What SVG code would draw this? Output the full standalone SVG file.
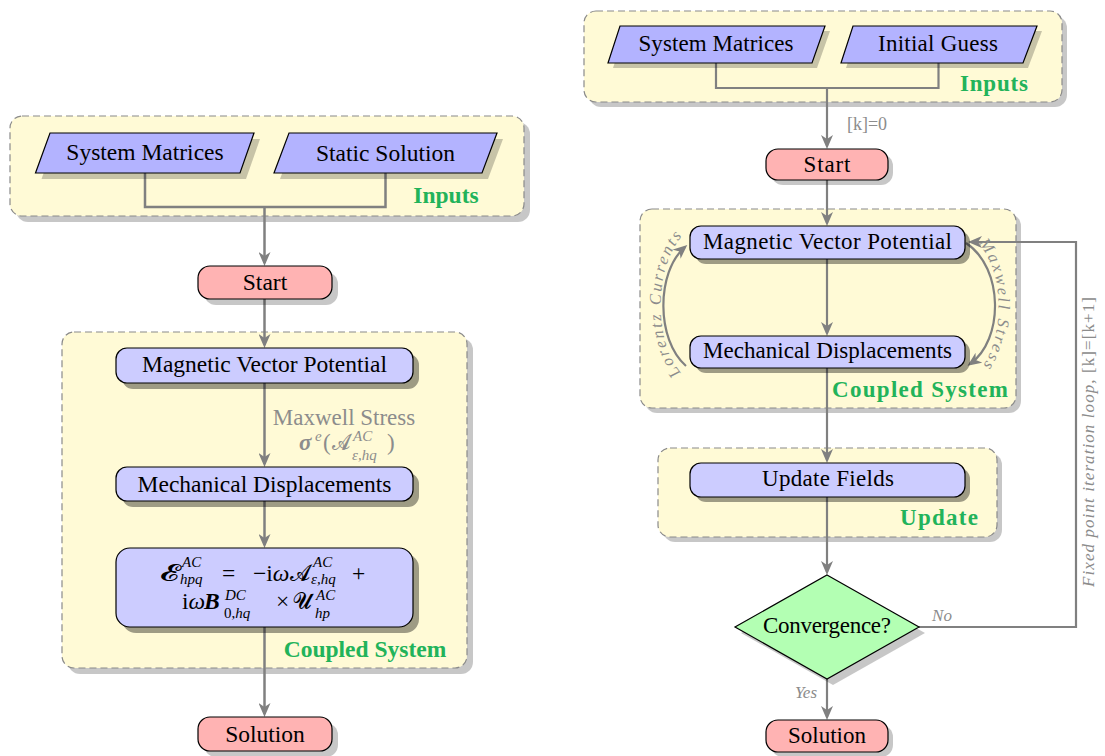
<svg xmlns="http://www.w3.org/2000/svg" width="1105" height="756" viewBox="0 0 1105 756">
<defs>
<style>
.ctr{fill:#fffad6;stroke:#8a8a8a;stroke-width:1.2;stroke-dasharray:7 4}
.sh{fill:#000;opacity:.22}
.shd{fill:#000;opacity:.38}
.io{fill:#b3b3ff;stroke:#000;stroke-width:1.2}
.proc{fill:#ccccff;stroke:#000;stroke-width:1.2}
.term{fill:#ffb3b3;stroke:#000;stroke-width:1.2}
.dec{fill:#b3ffb3;stroke:#000;stroke-width:1.2}
text{font-family:"Liberation Serif","DejaVu Serif",serif;fill:#000}
.lab{font-weight:bold;fill:#22b35a}
.g{fill:#8c8c8c}
.i{font-style:italic}
.b{font-weight:bold}
.L{font-size:23.5px}
.R{font-size:23px}
.s{font-size:15px}
#connectors path{fill:none;stroke:#808080;stroke-width:2.5}
#connectors .r{stroke-width:2.2}
</style>
<marker id="ah" markerUnits="userSpaceOnUse" viewBox="0 0 14 12" refX="11" refY="6" markerWidth="14" markerHeight="12" orient="auto"><path d="M0,0 L14,6 L0,12 L4,6 z" fill="#808080"/></marker>
</defs>
<rect width="1105" height="756" fill="#fff"/>

<!-- containers -->
<g id="left-inputs">
<rect class="sh" x="16" y="122" width="514" height="100" rx="12"/>
<rect class="ctr" x="10" y="116" width="514" height="100" rx="12"/>
<text class="lab L" x="446" y="203" text-anchor="middle">Inputs</text>
</g>
<g id="left-coupled">
<rect class="sh" x="68" y="338" width="405" height="336" rx="12"/>
<rect class="ctr" x="62" y="332" width="405" height="336" rx="12"/>
<text class="lab L" x="365" y="657" text-anchor="middle">Coupled System</text>
</g>
<g id="right-inputs">
<rect class="sh" x="589" y="16" width="478" height="91" rx="12"/>
<rect class="ctr" x="584" y="11" width="478" height="91" rx="12"/>
<text class="lab R" x="994" y="91" text-anchor="middle" textLength="68" lengthAdjust="spacing">Inputs</text>
</g>
<g id="right-coupled">
<rect class="sh" x="645" y="214" width="376" height="199" rx="12"/>
<rect class="ctr" x="640" y="209" width="376" height="199" rx="12"/>
<text class="lab R" x="920" y="397" text-anchor="middle" textLength="176" lengthAdjust="spacing">Coupled System</text>
</g>
<g id="right-update">
<rect class="sh" x="663" y="453" width="339" height="89" rx="12"/>
<rect class="ctr" x="658" y="448" width="339" height="89" rx="12"/>
<text class="lab R" x="939" y="525" text-anchor="middle" textLength="78" lengthAdjust="spacing">Update</text>
</g>

<!-- connectors -->
<g id="connectors">
<path d="M145,173 V207 H385.5 V173"/>
<path d="M264.5,207 V263" marker-end="url(#ah)"/>
<path d="M264.5,299 V345" marker-end="url(#ah)"/>
<path d="M264.5,383 V464" marker-end="url(#ah)"/>
<path d="M264.5,501 V545" marker-end="url(#ah)"/>
<path d="M264.5,627 V714" marker-end="url(#ah)"/>

<path class="r" d="M716,63 V88 H938.5 V63"/>
<path class="r" d="M827,88 V146" marker-end="url(#ah)"/>
<path class="r" d="M827,180 V223" marker-end="url(#ah)"/>
<path class="r" d="M827,259 V333" marker-end="url(#ah)"/>
<path class="r" d="M827,368 V460" marker-end="url(#ah)"/>
<path class="r" d="M827,497 V572" marker-end="url(#ah)"/>
<path class="r" d="M827,679 V717" marker-end="url(#ah)"/>
<path class="r" d="M919,627 H1076 V242 H971" marker-end="url(#ah)"/>
<path class="r" d="M686,366 C656,340 656,272 685,247" marker-end="url(#ah)"/>
<path class="r" d="M966,243 C1004,268 1004,340 970,364" marker-end="url(#ah)"/>
<path id="lcpath" d="M683,375 C653,345 653,266 684,234" style="stroke:none"/>
<path id="mspath" d="M970,236 C1007,262 1007,344 976,374" style="stroke:none"/>
</g>

<!-- connector labels -->
<g id="connector-labels">
<text class="g" x="344" y="424.5" text-anchor="middle" font-size="23">Maxwell Stress</text>
<text class="g b i" x="299" y="450" font-size="23">σ</text>
<text class="g i" x="315" y="441" font-size="15">e</text>
<text class="g" x="323" y="450" font-size="23">(</text>
<text class="g" x="332" y="450" font-size="23" textLength="18" lengthAdjust="spacingAndGlyphs">𝓐</text>
<text class="g i" x="353" y="441" font-size="15">AC</text>
<text class="g i" x="352" y="460" font-size="15">ε,hq</text>
<text class="g" x="387" y="450" font-size="23">)</text>
<text class="g" x="867" y="130" text-anchor="middle" font-size="18">[k]=0</text>
<text class="g i" font-size="16.5"><textPath href="#lcpath" startOffset="50%" text-anchor="middle" textLength="146" lengthAdjust="spacing">Lorentz Currents</textPath></text>
<text class="g i" font-size="16.5"><textPath href="#mspath" startOffset="50%" text-anchor="middle" textLength="130" lengthAdjust="spacing">Maxwell Stress</textPath></text>
<text class="g i" x="942" y="621" text-anchor="middle" font-size="17">No</text>
<text class="g i" x="806" y="698" text-anchor="middle" font-size="17">Yes</text>
<text class="g" transform="translate(1094,442) rotate(-90)" text-anchor="middle" font-size="17" textLength="290" lengthAdjust="spacing"><tspan class="i">Fixed point iteration loop, </tspan><tspan>[k]=[k+1]</tspan></text>
</g>

<!-- left nodes -->
<g id="l-sysmat">
<polygon class="sh" points="56,139 260,139 246,179 41.5,179"/>
<polygon class="io" points="50,133 254,133 240,173 35.5,173"/>
<text class="L" x="145" y="160" text-anchor="middle">System Matrices</text>
</g>
<g id="l-static">
<polygon class="sh" points="295,139 503,139 488,179 280,179"/>
<polygon class="io" points="289,133 497,133 482,173 274,173"/>
<text class="L" x="385.5" y="161" text-anchor="middle">Static Solution</text>
</g>
<g id="l-start">
<rect class="sh" x="204" y="272" width="134" height="33" rx="12"/>
<rect class="term" x="198" y="266" width="134" height="33" rx="12"/>
<text class="L" x="265" y="290" text-anchor="middle">Start</text>
</g>
<g id="l-mvp">
<rect class="shd" x="122" y="354" width="297" height="35" rx="11"/>
<rect class="proc" x="116" y="348" width="297" height="35" rx="11"/>
<text class="L" x="264.5" y="372" text-anchor="middle">Magnetic Vector Potential</text>
</g>
<g id="l-md">
<rect class="shd" x="122" y="473" width="297" height="34" rx="11"/>
<rect class="proc" x="116" y="467" width="297" height="34" rx="11"/>
<text class="L" x="264.5" y="492" text-anchor="middle">Mechanical Displacements</text>
</g>
<g id="l-formula">
<rect class="shd" x="122" y="554" width="297" height="79" rx="14"/>
<rect class="proc" x="116" y="548" width="297" height="79" rx="14"/>
<text x="160" y="581" font-size="23.5" textLength="19" lengthAdjust="spacingAndGlyphs">𝓔</text>
<text class="i s" x="182" y="567">AC</text>
<text class="i s" x="180" y="584">hpq</text>
<text x="222" y="581" font-size="23.5">=</text>
<text x="253" y="581" font-size="23.5">−i<tspan class="i">ω</tspan></text>
<text x="290" y="581" font-size="23.5" textLength="20" lengthAdjust="spacingAndGlyphs">𝓐</text>
<text class="i s" x="313" y="567">AC</text>
<text class="i s" x="311" y="584">ε,hq</text>
<text x="352" y="581" font-size="23.5">+</text>
<text x="182" y="609" font-size="23.5">i<tspan class="i">ω</tspan></text>
<text class="b i" x="204" y="609" font-size="23.5">B</text>
<text class="i s" x="225" y="600">DC</text>
<text class="s" x="224" y="618">0,<tspan class="i">hq</tspan></text>
<text x="276" y="609" font-size="23.5">×</text>
<text x="293" y="609" font-size="23.5" textLength="18" lengthAdjust="spacingAndGlyphs">𝓤</text>
<text class="i s" x="316" y="600">AC</text>
<text class="i s" x="315" y="618">hp</text>
</g>
<g id="l-solution">
<rect class="sh" x="204" y="723" width="134" height="34" rx="12"/>
<rect class="term" x="198" y="717" width="134" height="34" rx="12"/>
<text class="L" x="265" y="742" text-anchor="middle">Solution</text>
</g>

<!-- right nodes -->
<g id="r-sysmat">
<polygon class="sh" points="625,31 830,31 817,68 613,68"/>
<polygon class="io" points="620,26 825,26 812,63 608,63"/>
<text class="R" x="716" y="51" text-anchor="middle" textLength="155" lengthAdjust="spacing">System Matrices</text>
</g>
<g id="r-guess">
<polygon class="sh" points="858,31 1042,31 1028,68 846,68"/>
<polygon class="io" points="853,26 1037,26 1023,63 841,63"/>
<text class="R" x="938" y="51" text-anchor="middle" textLength="120" lengthAdjust="spacing">Initial Guess</text>
</g>
<g id="r-start">
<rect class="sh" x="771" y="154" width="122" height="31" rx="12"/>
<rect class="term" x="766" y="149" width="122" height="31" rx="12"/>
<text class="R" x="827" y="172" text-anchor="middle" textLength="47" lengthAdjust="spacing">Start</text>
</g>
<g id="r-mvp">
<rect class="shd" x="695" y="231" width="275" height="33" rx="11"/>
<rect class="proc" x="690" y="226" width="275" height="33" rx="11"/>
<text class="R" x="827.5" y="249" text-anchor="middle" textLength="249" lengthAdjust="spacing">Magnetic Vector Potential</text>
</g>
<g id="r-md">
<rect class="shd" x="695" y="341" width="275" height="32" rx="11"/>
<rect class="proc" x="690" y="336" width="275" height="32" rx="11"/>
<text class="R" x="827.5" y="358" text-anchor="middle" textLength="249" lengthAdjust="spacing">Mechanical Displacements</text>
</g>
<g id="r-update">
<rect class="shd" x="695" y="468" width="275" height="34" rx="11"/>
<rect class="proc" x="690" y="463" width="275" height="34" rx="11"/>
<text class="R" x="828" y="486" text-anchor="middle" textLength="132" lengthAdjust="spacing">Update Fields</text>
</g>
<g id="r-conv">
<polygon class="sh" points="833,581 925,633 833,685 741,633"/>
<polygon class="dec" points="827,575 919,627 827,679 735,627"/>
<text class="R" x="827" y="633" text-anchor="middle" textLength="128" lengthAdjust="spacing">Convergence?</text>
</g>
<g id="r-solution">
<rect class="sh" x="771" y="725" width="122" height="32" rx="12"/>
<rect class="term" x="766" y="720" width="122" height="32" rx="12"/>
<text class="R" x="827" y="743" text-anchor="middle" textLength="78" lengthAdjust="spacing">Solution</text>
</g>
</svg>
